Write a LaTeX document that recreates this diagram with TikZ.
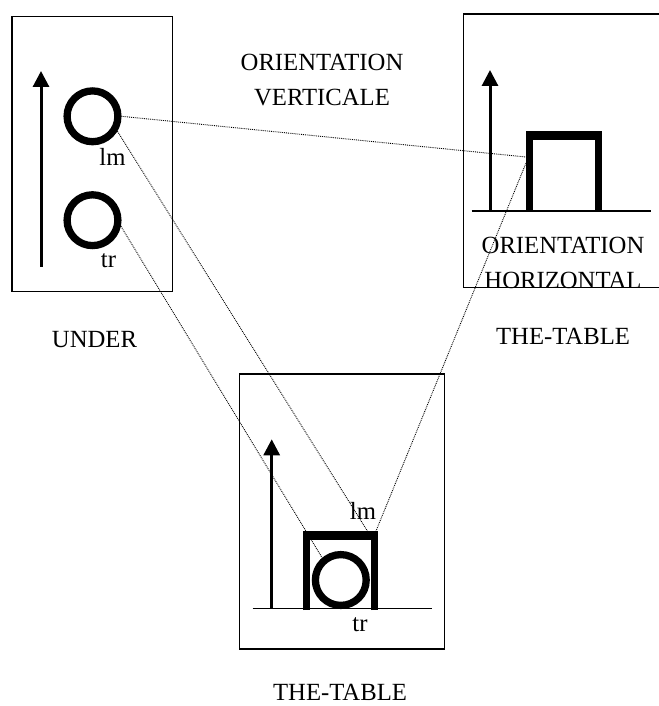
\documentclass[tikz,border=0pt]{standalone}
\usepackage{fontspec}
\setmainfont{Liberation Serif}
\usetikzlibrary{arrows.meta}
\tikzset{
  frame/.style={line width=1.2pt},
  ring/.style={circle,draw,line width=7.3pt,minimum size=50.8pt,inner sep=0pt},
  leg/.style={line width=7pt},
  bar/.style={line width=9pt},
  upaxis/.style={line width=3pt,-{Triangle[length=16pt,width=16pt]}},
  floor/.style={line width=1.5pt},
  link/.style={densely dotted,line width=0.9pt},
  lbl/.style={font=\fontsize{24.7}{35}\selectfont,inner sep=0pt,align=center}
}
\begin{document}
\begin{tikzpicture}[x=1pt,y=-1pt]
\useasboundingbox (0,0) rectangle (658,706);
\draw[frame] (12,16.7) rectangle (172.3,291.7);
\draw[frame] (463.3,14) rectangle (670,287.3);
\draw[frame] (239.3,374) rectangle (444.3,649);
\node[ring] (lmA) at (92.5,116.3) {};
\node[ring] (trA) at (92.5,220.2) {};
\node[ring] (trC) at (340.8,580) {};
\draw[upaxis] (41,266.7) -- (41,71);
\draw[upaxis] (490,211) -- (490,70);
\draw[upaxis] (271.7,608.3) -- (271.7,439.3);
\draw[floor] (471.7,211) -- (650.7,211);
\draw[floor] (252.7,608.3) -- (431.7,608.3);
\draw[leg] (529.7,211) -- (529.7,131);
\draw[leg] (598.7,211) -- (598.7,131);
\draw[bar] (529.7,135.5) -- (598.7,135.5);
\draw[leg] (306,610) -- (306,531);
\draw[leg] (374.7,610) -- (374.7,531);
\draw[bar] (306,535.5) -- (374.7,535.5);
\coordinate (lmB) at (526,157);
\coordinate (trB) at (526,163);
\coordinate (lmC) at (368,532);
\coordinate (topC) at (376,531);
\draw[link] (lmA.east) -- (lmB);
\draw[link] (lmA.-31) -- (lmC);
\draw[link] (trA.-12) -- (trC.130);
\draw[link] (trB) -- (topC);
\node[lbl,anchor=base] (lmA label) at (112.5,165) {lm};
\node[lbl,anchor=base] (trA label) at (108.5,267) {tr};
\node[lbl,anchor=base] (lmC label) at (363,519) {lm};
\node[lbl,anchor=base] (trC label) at (360,631) {tr};
\node[lbl] (vert) at (322,79.8) {ORIENTATION\\VERTICALE};
\node[lbl] (horiz) at (563,262.5) {ORIENTATION\\HORIZONTAL};
\node[lbl] (under) at (94.5,340) {UNDER};
\node[lbl] (table1) at (563,336) {THE-TABLE};
\node[lbl] (table2) at (340,692) {THE-TABLE};
\end{tikzpicture}
\end{document}
